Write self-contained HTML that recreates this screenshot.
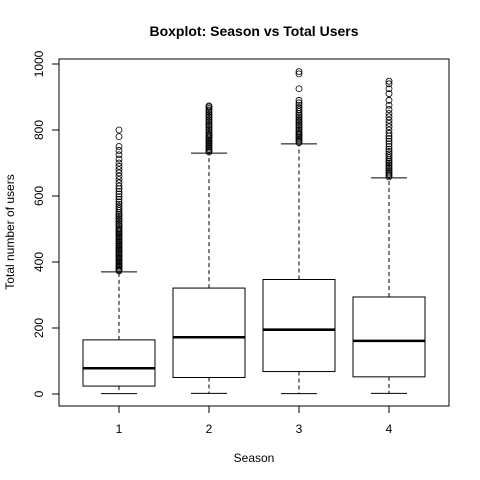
<!DOCTYPE html>
<html><head><meta charset="utf-8"><style>
body{margin:0;background:#fff;}
svg{display:block;font-family:"Liberation Sans",Arial,sans-serif;}
</style></head><body>
<svg id="c" width="480" height="480" xmlns="http://www.w3.org/2000/svg">
<text x="254" y="36" text-anchor="middle" font-size="14" font-weight="bold">Boxplot: Season vs Total Users</text>
<text x="254" y="462" text-anchor="middle" font-size="12">Season</text>
<text transform="translate(14,232) rotate(-90)" text-anchor="middle" font-size="12">Total number of users</text>
<rect x="59" y="59" width="390" height="347" fill="none" stroke="#000"/>
<g id="g"></g>
</svg>
<script>
const categories = ["1","2","3","4"];
const mins = [1, 2, 1, 2];
const q1s = [24, 50, 68, 52];
const medians = [78, 172, 195, 161];
const q3s = [164, 321, 347, 294];
const whiskHi = [370, 730, 758, 655];
const out1 = [373,376,380,384,388,392,396,400,404,408,412,416,420,424,428,432,436,440,444,448,452,456,460,464,468,472,476,480,484,488,492,496,500,505,510,515,520,525,530,535,540,545,550,556,562,568,575,582,590,598,606,614,622,630,640,650,660,670,680,690,700,712,725,738,750,780,800];
const out2 = [733,737,741,745,749,753,757,761,765,769,773,777,781,785,790,795,800,805,810,815,820,825,830,835,840,845,850,855,860,865,870,873];
const out3 = [762,766,770,774,778,782,786,790,795,800,805,810,815,820,825,830,835,840,845,850,856,862,868,875,882,890,925,970,977];
const out4 = [658,662,666,670,675,680,685,690,695,700,705,710,716,722,728,735,742,750,758,766,774,782,790,800,810,820,830,840,850,862,875,890,910,925,940,948];
const outliers = [out1,out2,out3,out4];
const yTicks = [0,200,400,600,800,1000];

const NS="http://www.w3.org/2000/svg", g=document.getElementById('g');
const y = v => 394 - v*0.33;
const x = i => 119 + i*90;
function mk(t,a){const e=document.createElementNS(NS,t);for(const k in a)e.setAttribute(k,a[k]);g.appendChild(e);return e;}
yTicks.forEach(v=>{
 const t=mk('line',{x1:52,x2:59,y1:y(v),y2:y(v),stroke:'#000'});
 
 
 const l=mk('text',{transform:`translate(43,${y(v)}) rotate(-90)`,'text-anchor':'middle','font-size':12});
 l.textContent=v;
 
 
});
categories.forEach((c,i)=>{
 const cx=x(i);
 const t=mk('line',{x1:cx,x2:cx,y1:406,y2:413,stroke:'#000'});
 
 
 const l=mk('text',{x:cx,y:433,'text-anchor':'middle','font-size':12});
 l.textContent=c;
 
 
 const w1=mk('line',{x1:cx,x2:cx,y1:y(q3s[i]),y2:y(whiskHi[i]),stroke:'#000','stroke-dasharray':'4,3'});
 
 
 const w2=mk('line',{x1:cx,x2:cx,y1:y(q1s[i]),y2:y(mins[i]),stroke:'#000','stroke-dasharray':'4,3'});
 
 
 [whiskHi[i],mins[i]].forEach(v=>{
  const cp=mk('line',{x1:cx-18,x2:cx+18,y1:y(v),y2:y(v),stroke:'#000'});
  
  
 });
 const b=mk('rect',{x:cx-36,y:y(q3s[i]),width:72,height:y(q1s[i])-y(q3s[i]),fill:'#fff',stroke:'#000'});
 
 
 const m=mk('line',{x1:cx-36,x2:cx+36,y1:y(medians[i]),y2:y(medians[i]),stroke:'#000','stroke-width':2.6});
 
 
 outliers[i].forEach(v=>{
  const o=mk('circle',{cx:cx,cy:y(v),r:3,fill:'none',stroke:'#000','stroke-width':0.8});
  
  
 });
});
</script>
</body></html>
